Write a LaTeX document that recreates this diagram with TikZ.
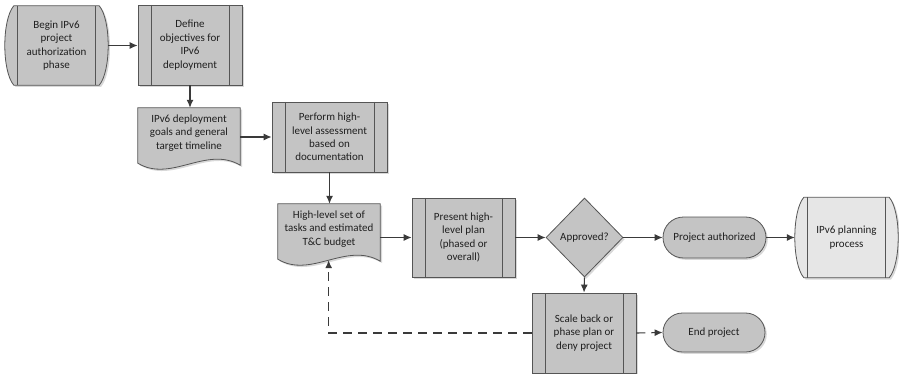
\documentclass[tikz,border=0pt]{standalone}
\usepackage{fontspec}
\setmainfont{Carlito}
\usetikzlibrary{arrows.meta,shapes.geometric,shapes.misc,calc,shadows,backgrounds}
\definecolor{edge}{HTML}{555555}
\definecolor{boxfill}{HTML}{C4C4C4}
\definecolor{lightfill}{HTML}{E6E6E6}
\definecolor{conn}{HTML}{3A3A3A}
\newcommand\drawbulge[2]{%
  \draw[shp, fill=#2] ($(#1.north west)+(9,0)$) -- ($(#1.north east)+(-9,0)$)
    .. controls ($(#1.north east)+(3,14)$) and ($(#1.south east)+(3,-14)$) .. ($(#1.south east)+(-9,0)$)
    -- ($(#1.south west)+(9,0)$)
    .. controls ($(#1.south west)+(-3,-14)$) and ($(#1.north west)+(-3,14)$) .. cycle;
  \draw[inln] ($(#1.north west)+(12.5,0)$) -- ($(#1.south west)+(12.5,0)$);
  \draw[inln] ($(#1.north east)+(-12.5,0)$) -- ($(#1.south east)+(-12.5,0)$);}
\newcommand\drawdoc[1]{%
  \draw[shp] (#1.north west) -- ($(#1.south west)+(0,5)$)
    .. controls ($(#1.south west)+(33,25)$) and ($(#1.south east)+(-34,-13)$) .. ($(#1.south east)+(0,7)$)
    coordinate[pos=0.5] (#1b)
    -- (#1.north east) -- cycle;}
\begin{document}
\begin{tikzpicture}[x=1pt,y=-1pt,
  every node/.style={font=\fontsize{11}{13.4}\selectfont, text=black!88, align=center, inner sep=0pt},
  shp/.style={draw=edge, line width=0.8pt, fill=boxfill,
    drop shadow={shadow xshift=1.8pt, shadow yshift=-1.8pt, fill=black!30, opacity=0.5}},
  inln/.style={draw=edge, line width=0.8pt},
  predef/.style={shp, rectangle,
    path picture={
      \draw[inln] ([xshift=13pt]path picture bounding box.north west) -- ([xshift=13pt]path picture bounding box.south west);
      \draw[inln] ([xshift=-13pt]path picture bounding box.north east) -- ([xshift=-13pt]path picture bounding box.south east);}},
  term/.style={shp, rounded rectangle},
  decide/.style={shp, diamond},
  arr/.style={draw=conn, line width=1.1pt, -{Latex[length=8pt,width=7pt]}},
  dsh/.style={dash pattern=on 9pt off 6pt}
]
\useasboundingbox (0,0) rectangle (899,374);

% nodes
\node[minimum width=103pt, minimum height=79pt] (begin) at (56.5,45.5)
  {Begin IPv6\\project\\authorization\\phase};
\node[predef, minimum width=104pt, minimum height=80pt] (define) at (190,45)
  {Define\\objectives for\\IPv6\\deployment};
\node[minimum width=102pt, minimum height=50pt] (goals) at (189,133)
  {IPv6 deployment\\goals and general\\target timeline};
\node[predef, minimum width=115pt, minimum height=70pt] (perform) at (329.5,137)
  {Perform high-\\level assessment\\based on\\documentation};
\node[minimum width=102pt, minimum height=50pt] (hl) at (329,229)
  {High-level set of\\tasks and estimated\\T\&C budget};
\node[predef, minimum width=103pt, minimum height=79pt] (present) at (463.5,237.5)
  {Present high-\\level plan\\(phased or\\overall)};
\node[decide, minimum width=77pt, minimum height=79pt] (approved) at (584.5,237.5)
  {Approved?};
\node[predef, minimum width=104pt, minimum height=80pt] (scale) at (584,333)
  {Scale back or\\phase plan or\\deny project};
\node[term, minimum width=103pt, minimum height=41pt] (projauth) at (714.5,237.5)
  {Project authorized};
\node[term, minimum width=102pt, minimum height=39pt] (endproj) at (714,332.5)
  {End project};
\node[minimum width=103pt, minimum height=80pt] (planning) at (846.5,237.5)
  {IPv6 planning\\process};

\begin{scope}[on background layer]
  \drawbulge{begin}{boxfill}
  \drawbulge{planning}{lightfill}
  \drawdoc{goals}
  \drawdoc{hl}
\end{scope}

% connectors
\draw[arr] (begin.east) -- (define.west |- begin.east);
\draw[arr] (define.south) -- (define.south |- goals.north);
\draw[arr] (goals.east |- perform.west) -- (perform.west);
\draw[arr] (perform.south) -- (perform.south |- hl.north);
\draw[arr] (hl.east |- present.west) -- (present.west);
\draw[arr] (present.east) -- (approved.west);
\draw[arr] (approved.east) -- (projauth.west);
\draw[arr] (projauth.east) -- (planning.west);
\draw[arr] (approved.south) -- (scale.north);
\draw[arr, dsh] (scale.west) -| (hlb);
\draw[arr, dsh] (scale.east) -- (endproj.west);
\end{tikzpicture}
\end{document}
